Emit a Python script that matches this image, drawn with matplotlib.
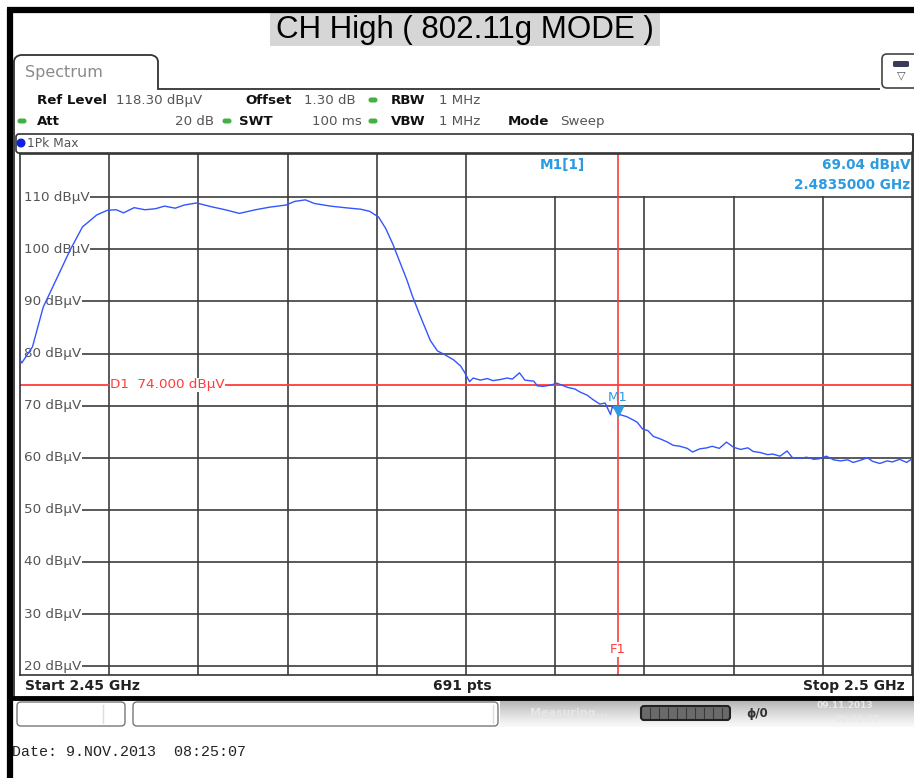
import numpy as np
import matplotlib.pyplot as plt
from matplotlib.patches import Rectangle, FancyBboxPatch, PathPatch
from matplotlib.path import Path
import matplotlib.transforms as mtransforms

# trace (MHz, dBuV)
freq_mhz = [2450.0, 2450.1, 2450.7, 2451.3, 2452.1, 2452.8, 2453.5, 2454.3, 2454.9,
            2455.4, 2455.8, 2456.4, 2457.0, 2457.6, 2458.1, 2458.7, 2459.2, 2459.9,
            2460.7, 2461.5, 2462.3, 2463.2, 2464.0, 2464.9, 2465.4, 2466.0, 2466.5,
            2467.4, 2468.2, 2469.1, 2469.6, 2470.1, 2470.5, 2470.9, 2471.3, 2471.7,
            2472.0, 2472.4, 2472.7, 2473.0, 2473.4, 2473.8, 2474.3, 2474.7, 2474.9,
            2475.2, 2475.4, 2475.8, 2476.2, 2476.5, 2476.9, 2477.3, 2477.6, 2478.0,
            2478.3, 2478.8, 2479.0, 2479.3, 2479.7, 2480.1, 2480.4, 2480.7, 2481.1,
            2481.4, 2481.8, 2482.1, 2482.5, 2482.8, 2483.1, 2483.2, 2483.5, 2483.6,
            2484.0, 2484.4, 2484.6, 2484.9, 2485.2, 2485.5, 2485.9, 2486.3, 2486.6,
            2487.0, 2487.4, 2487.7, 2488.1, 2488.5, 2488.8, 2489.2, 2489.6, 2490.0,
            2490.4, 2490.8, 2491.1, 2491.5, 2491.9, 2492.2, 2492.6, 2493.0, 2493.3,
            2493.7, 2494.1, 2494.5, 2494.8, 2495.2, 2495.6, 2496.0, 2496.4, 2496.7,
            2497.1, 2497.5, 2497.8, 2498.2, 2498.6, 2498.9, 2499.3, 2499.7, 2500.0]
level_dbuv = [78.8, 78.2, 81.3, 88.9, 94.7, 99.8, 104.3, 106.6, 107.5,
              107.6, 107.0, 108.0, 107.6, 107.8, 108.3, 107.9, 108.5, 108.9,
              108.2, 107.6, 106.9, 107.6, 108.1, 108.5, 109.2, 109.5, 108.8,
              108.3, 108.0, 107.7, 107.3, 106.2, 104.0, 101.0, 97.5, 94.0,
              91.0, 87.5, 85.0, 82.5, 80.5, 79.8, 78.8, 77.6, 76.5,
              74.6, 75.3, 74.9, 75.2, 74.8, 75.0, 75.3, 75.1, 76.3,
              74.9, 74.7, 73.8, 73.7, 73.9, 74.3, 73.9, 73.5, 73.2,
              72.6, 72.0, 71.2, 70.3, 70.5, 68.3, 69.8, 69.0, 68.3,
              67.9, 67.2, 66.8, 65.5, 65.2, 64.1, 63.6, 63.0, 62.4,
              62.2, 61.8, 61.1, 61.7, 61.9, 62.2, 61.8, 63.0, 62.0,
              61.6, 61.9, 61.2, 61.0, 60.6, 60.7, 60.3, 61.3, 60.0,
              59.9, 60.1, 59.7, 59.8, 60.3, 59.6, 59.4, 59.6, 59.1,
              59.5, 60.0, 59.3, 58.9, 59.4, 59.2, 59.7, 59.1, 59.8]

level_ticks = [110, 100, 90, 80, 70, 60, 50, 40, 30, 20]
grid_freqs = [2455, 2460, 2465, 2470, 2475, 2480, 2485, 2490, 2495]
span_mhz = (2450, 2500)
ref_level = 118.3
limit_db = 74.0
marker_freq = 2483.5
marker_level = 69.04

title = 'CH High ( 802.11g MODE )'

RED = '#ff3c3c'
MBLUE = '#2c9be0'
GRID = '#3c3c3c'

fig = plt.figure(figsize=(9.14, 7.78), dpi=100)

# full-figure layer in pixel units for the instrument frame
bg = fig.add_axes([0, 0, 1, 1])
bg.set_xlim(0, 914)
bg.set_ylim(778, 0)
bg.axis('off')

# outer black border
bg.plot([9.5, 9.5], [9, 778], color='black', lw=4.5, solid_capstyle='butt')
bg.plot([7, 914], [9.5, 9.5], color='black', lw=4.5, solid_capstyle='butt')

# title on grey box
bg.add_patch(Rectangle((270, 13), 390, 33, color='#d6d6d6', lw=0))
bg.text(465, 30, title, ha='center', va='center', fontsize=22.5,
        family='Liberation Sans', color='black')

# Spectrum tab + line to icon
tab = Path([(14, 134), (14, 62), (14, 56), (21, 55), (151, 55), (158, 56),
            (158, 62), (158, 89), (880, 89)],
           [Path.MOVETO, Path.LINETO, Path.CURVE3, Path.CURVE3, Path.LINETO,
            Path.CURVE3, Path.CURVE3, Path.LINETO, Path.LINETO])
bg.add_patch(PathPatch(tab, fill=False, ec='#333333', lw=1.3))
bg.text(25, 72, 'Spectrum', fontsize=11.5, color='#8a8a8a', va='center',
        family='DejaVu Sans')
bg.add_patch(FancyBboxPatch((882, 54), 40, 34, boxstyle='round,pad=0,rounding_size=5',
                            fc='white', ec='#444444', lw=1.2))
bg.add_patch(FancyBboxPatch((893, 61), 16, 6, boxstyle='round,pad=0,rounding_size=1.5',
                            fc='#3a3a5a', ec='none'))
bg.text(901, 75, '▽', ha='center', va='center', fontsize=8, color='#555')

# header settings
hdr = dict(fontsize=9.6, va='center', family='DejaVu Sans')
bold = dict(hdr, weight='bold', color='#111111')
val = dict(hdr, color='#555555')
bg.text(37, 100, 'Ref Level', **bold)
bg.text(116, 100, '118.30 dBµV', **val)
bg.text(245, 100, 'Offset', **bold)
bg.text(304, 100, '1.30 dB', **val)
bg.text(391, 100, 'RBW', **bold)
bg.text(439, 100, '1 MHz', **val)
bg.text(37, 121, 'Att', **bold)
bg.text(214, 121, '20 dB', ha='right', **val)
bg.text(239, 121, 'SWT', **bold)
bg.text(362, 121, '100 ms', ha='right', **val)
bg.text(391, 121, 'VBW', **bold)
bg.text(439, 121, '1 MHz', **val)
bg.text(508, 121, 'Mode', **bold)
bg.text(560, 121, 'Sweep', **val)
for gx, gy in [(373, 100), (22, 121), (227, 121), (373, 121)]:
    bg.add_patch(FancyBboxPatch((gx - 4.5, gy - 2.5), 9, 5, boxstyle='round,pad=0,rounding_size=2.5',
                                fc='#44b044', ec='none'))

# trace label bar
bg.add_patch(FancyBboxPatch((16, 134), 897, 19, boxstyle='round,pad=0,rounding_size=3',
                            fc='white', ec='#333333', lw=1.2))
bg.add_patch(plt.Circle((21, 143), 3.8, color='#1020e0'))
bg.text(27, 143, '1Pk Max', fontsize=8.8, color='#555555', va='center')

# bottom info bar
bg.plot([14, 14], [134, 697], color='#333333', lw=1.3)
bg.plot([912.5, 912.5], [134, 697], color='#333333', lw=1.3)
binfo = dict(fontsize=10, weight='bold', color='#222', va='center')
bg.text(25, 686, 'Start 2.45 GHz', **binfo)
bg.text(462, 686, '691 pts', ha='center', **binfo)
bg.text(905, 686, 'Stop 2.5 GHz', ha='right', **binfo)
bg.plot([12, 914], [698, 698], color='black', lw=3.5)

# status bar
bg.add_patch(FancyBboxPatch((17, 702), 108, 24, boxstyle='round,pad=0,rounding_size=4',
                            fc='white', ec='#777777', lw=1))
bg.add_patch(FancyBboxPatch((133, 702), 365, 24, boxstyle='round,pad=0,rounding_size=4',
                            fc='white', ec='#777777', lw=1))
bg.plot([103, 103], [705, 723], color='#dddddd', lw=1)
bg.plot([493, 493], [705, 723], color='#dddddd', lw=1)
grad = np.linspace(0, 1, 30).reshape(-1, 1)
bg.imshow(grad, extent=(500, 914, 727, 700), cmap='Greys_r', vmin=-1.6, vmax=1.15,
          aspect='auto', zorder=0.5)
bg.text(530, 713, 'Measuring...', fontsize=8, color='#e6e6e6', va='center', weight='bold')
bg.add_patch(FancyBboxPatch((641, 706), 89, 14, boxstyle='round,pad=0,rounding_size=3',
                            fc='#6a6a6a', ec='#222222', lw=1.5))
for sx in range(650, 726, 9):
    bg.plot([sx, sx], [708, 718], color='#3a3a3a', lw=0.8)
bg.text(757, 713, 'ϕ/0', fontsize=8.5, color='#333', va='center', ha='center', weight='bold')
bg.text(845, 706, '09.11.2013', fontsize=6.5, color='#e8e8e8', va='center', ha='center', weight='bold')
bg.text(858, 719, '08:25:07', fontsize=6.5, color='#e8e8e8', va='center', ha='center', weight='bold')

bg.text(12, 752, 'Date: 9.NOV.2013  08:25:07', fontsize=10.8, family='Liberation Mono',
        color='#222', va='center')

# spectrum plot
ax = fig.add_axes([20 / 914, 1 - 675 / 778, 892 / 914, 521 / 778])
ax.set_zorder(2)
ax.set_xlim(*span_mhz)
ax.set_ylim(ref_level - 100, ref_level)
ax.set_xticks([])
ax.set_yticks([])
for s in ax.spines.values():
    s.set_color('#333333')
    s.set_linewidth(1.2)

trans = mtransforms.blended_transform_factory(ax.transAxes, ax.transData)
lbl = dict(fontsize=9.7, va='center', ha='left', zorder=3,
           bbox=dict(fc='white', ec='none', pad=0.3))
for v in level_ticks:
    ax.axhline(v, xmin=0.01, color=GRID, lw=1.4, alpha=0.85, zorder=1)
    ax.text(0.005, v, f'{v} dBµV', transform=trans, color='#555555', **lbl)
top_frac = (110 - ax.get_ylim()[0]) / 100
for f in grid_freqs:
    ax.axvline(f, ymax=1 if f <= 2475 else top_frac, color=GRID, lw=1.4, alpha=0.85, zorder=1)

# display line D1
ax.axhline(limit_db, color=RED, lw=1.3, zorder=2)
ax.text(0.101, limit_db, 'D1  74.000 dBµV', transform=trans, color=RED, **lbl)

# frequency line F1
ax.axvline(marker_freq, color=RED, lw=1.2, zorder=2)
ax.text(marker_freq, 23.2, 'F1', fontsize=9.5, color=RED, ha='center', va='center', zorder=3,
        bbox=dict(fc='white', ec='none', pad=0.6))

ax.plot(freq_mhz, level_dbuv, color='#3355ff', lw=1.0, zorder=4)

# marker M1
ax.plot(marker_freq, marker_level, marker='v', color=MBLUE, ms=6.5, zorder=5)
ax.text(marker_freq, marker_level + 2.6, 'M1', fontsize=9.5, color=MBLUE, ha='center',
        va='center', zorder=5)
mk = dict(transform=ax.transAxes, fontsize=9.8, color=MBLUE, va='center', weight='bold')
ax.text(0.608, 0.978, 'M1[1]', ha='center', **mk)
ax.text(0.998, 0.978, f'{marker_level:.2f} dBµV', ha='right', **mk)
ax.text(0.998, 0.94, f'{marker_freq / 1000:.7f} GHz', ha='right', **mk)

fig.savefig('out.png', dpi=100)
